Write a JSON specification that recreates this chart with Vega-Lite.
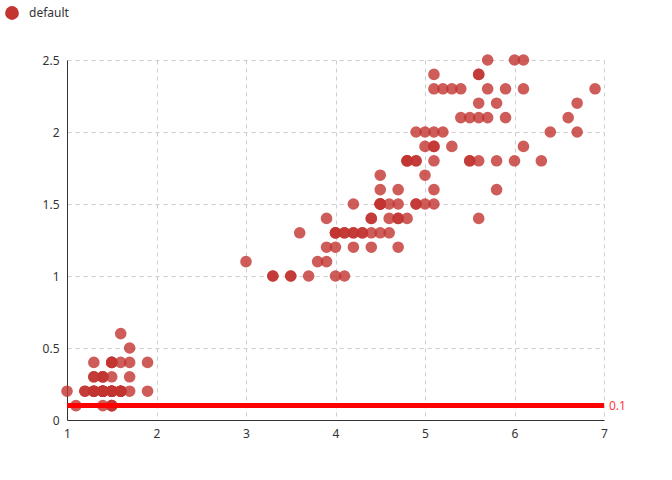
{
  "$schema": "https://vega.github.io/schema/vega-lite/v6.json",
  "autosize": {"type": "none"},
  "padding": {"left": 67, "top": 60, "right": 68, "bottom": 60},
  "width": 537,
  "height": 360,
  "background": "white",
  "config": {
    "view": {"stroke": null},
    "font": "Noto Sans",
    "axis": {
      "labelFont": "Noto Sans",
      "labelFontSize": 12,
      "labelColor": "#333",
      "domainColor": "#333",
      "domainWidth": 1,
      "ticks": false,
      "grid": true,
      "gridColor": "#cccccc",
      "gridDash": [4, 4],
      "gridWidth": 1,
      "title": null,
      "labelPadding": 8,
      "labelFlush": false,
      "labelOverlap": false
    }
  },
  "datasets": {
    "iris": [
      {"s":"default","pl":1.4,"pw":0.2},{"s":"default","pl":1.4,"pw":0.2},{"s":"default","pl":1.3,"pw":0.2},{"s":"default","pl":1.5,"pw":0.2},{"s":"default","pl":1.4,"pw":0.2},
      {"s":"default","pl":1.7,"pw":0.4},{"s":"default","pl":1.4,"pw":0.3},{"s":"default","pl":1.5,"pw":0.2},{"s":"default","pl":1.4,"pw":0.2},{"s":"default","pl":1.5,"pw":0.1},
      {"s":"default","pl":1.5,"pw":0.2},{"s":"default","pl":1.6,"pw":0.2},{"s":"default","pl":1.4,"pw":0.1},{"s":"default","pl":1.1,"pw":0.1},{"s":"default","pl":1.2,"pw":0.2},
      {"s":"default","pl":1.5,"pw":0.4},{"s":"default","pl":1.3,"pw":0.4},{"s":"default","pl":1.4,"pw":0.3},{"s":"default","pl":1.7,"pw":0.3},{"s":"default","pl":1.5,"pw":0.3},
      {"s":"default","pl":1.7,"pw":0.2},{"s":"default","pl":1.5,"pw":0.4},{"s":"default","pl":1.0,"pw":0.2},{"s":"default","pl":1.7,"pw":0.5},{"s":"default","pl":1.9,"pw":0.2},
      {"s":"default","pl":1.6,"pw":0.2},{"s":"default","pl":1.6,"pw":0.4},{"s":"default","pl":1.5,"pw":0.2},{"s":"default","pl":1.4,"pw":0.2},{"s":"default","pl":1.6,"pw":0.2},
      {"s":"default","pl":1.6,"pw":0.2},{"s":"default","pl":1.5,"pw":0.4},{"s":"default","pl":1.5,"pw":0.1},{"s":"default","pl":1.4,"pw":0.2},{"s":"default","pl":1.5,"pw":0.2},
      {"s":"default","pl":1.2,"pw":0.2},{"s":"default","pl":1.3,"pw":0.2},{"s":"default","pl":1.5,"pw":0.1},{"s":"default","pl":1.3,"pw":0.2},{"s":"default","pl":1.5,"pw":0.2},
      {"s":"default","pl":1.3,"pw":0.3},{"s":"default","pl":1.3,"pw":0.3},{"s":"default","pl":1.3,"pw":0.2},{"s":"default","pl":1.6,"pw":0.6},{"s":"default","pl":1.9,"pw":0.4},
      {"s":"default","pl":1.4,"pw":0.3},{"s":"default","pl":1.6,"pw":0.2},{"s":"default","pl":1.4,"pw":0.2},{"s":"default","pl":1.5,"pw":0.2},{"s":"default","pl":1.4,"pw":0.2},
      {"s":"default","pl":4.7,"pw":1.4},{"s":"default","pl":4.5,"pw":1.5},{"s":"default","pl":4.9,"pw":1.5},{"s":"default","pl":4.0,"pw":1.3},{"s":"default","pl":4.6,"pw":1.5},
      {"s":"default","pl":4.5,"pw":1.3},{"s":"default","pl":4.7,"pw":1.6},{"s":"default","pl":3.3,"pw":1.0},{"s":"default","pl":4.6,"pw":1.3},{"s":"default","pl":3.9,"pw":1.4},
      {"s":"default","pl":3.5,"pw":1.0},{"s":"default","pl":4.2,"pw":1.5},{"s":"default","pl":4.0,"pw":1.0},{"s":"default","pl":4.7,"pw":1.4},{"s":"default","pl":3.6,"pw":1.3},
      {"s":"default","pl":4.4,"pw":1.4},{"s":"default","pl":4.5,"pw":1.5},{"s":"default","pl":4.1,"pw":1.0},{"s":"default","pl":4.5,"pw":1.5},{"s":"default","pl":3.9,"pw":1.1},
      {"s":"default","pl":4.8,"pw":1.8},{"s":"default","pl":4.0,"pw":1.3},{"s":"default","pl":4.9,"pw":1.5},{"s":"default","pl":4.7,"pw":1.2},{"s":"default","pl":4.3,"pw":1.3},
      {"s":"default","pl":4.4,"pw":1.4},{"s":"default","pl":4.8,"pw":1.4},{"s":"default","pl":5.0,"pw":1.7},{"s":"default","pl":4.5,"pw":1.5},{"s":"default","pl":3.5,"pw":1.0},
      {"s":"default","pl":3.8,"pw":1.1},{"s":"default","pl":3.7,"pw":1.0},{"s":"default","pl":3.9,"pw":1.2},{"s":"default","pl":5.1,"pw":1.6},{"s":"default","pl":4.5,"pw":1.5},
      {"s":"default","pl":4.5,"pw":1.6},{"s":"default","pl":4.7,"pw":1.5},{"s":"default","pl":4.4,"pw":1.3},{"s":"default","pl":4.1,"pw":1.3},{"s":"default","pl":4.0,"pw":1.3},
      {"s":"default","pl":4.4,"pw":1.2},{"s":"default","pl":4.6,"pw":1.4},{"s":"default","pl":4.0,"pw":1.2},{"s":"default","pl":3.3,"pw":1.0},{"s":"default","pl":4.2,"pw":1.3},
      {"s":"default","pl":4.2,"pw":1.2},{"s":"default","pl":4.2,"pw":1.3},{"s":"default","pl":4.3,"pw":1.3},{"s":"default","pl":3.0,"pw":1.1},{"s":"default","pl":4.1,"pw":1.3},
      {"s":"default","pl":6.0,"pw":2.5},{"s":"default","pl":5.1,"pw":1.9},{"s":"default","pl":5.9,"pw":2.1},{"s":"default","pl":5.6,"pw":1.8},{"s":"default","pl":5.8,"pw":2.2},
      {"s":"default","pl":6.6,"pw":2.1},{"s":"default","pl":4.5,"pw":1.7},{"s":"default","pl":6.3,"pw":1.8},{"s":"default","pl":5.8,"pw":1.8},{"s":"default","pl":6.1,"pw":2.5},
      {"s":"default","pl":5.1,"pw":2.0},{"s":"default","pl":5.3,"pw":1.9},{"s":"default","pl":5.5,"pw":2.1},{"s":"default","pl":5.0,"pw":2.0},{"s":"default","pl":5.1,"pw":2.4},
      {"s":"default","pl":5.3,"pw":2.3},{"s":"default","pl":5.5,"pw":1.8},{"s":"default","pl":6.7,"pw":2.2},{"s":"default","pl":6.9,"pw":2.3},{"s":"default","pl":5.0,"pw":1.5},
      {"s":"default","pl":5.7,"pw":2.3},{"s":"default","pl":4.9,"pw":2.0},{"s":"default","pl":6.7,"pw":2.0},{"s":"default","pl":4.9,"pw":1.8},{"s":"default","pl":5.7,"pw":2.1},
      {"s":"default","pl":6.0,"pw":1.8},{"s":"default","pl":4.8,"pw":1.8},{"s":"default","pl":4.9,"pw":1.8},{"s":"default","pl":5.6,"pw":2.1},{"s":"default","pl":5.8,"pw":1.6},
      {"s":"default","pl":6.1,"pw":1.9},{"s":"default","pl":6.4,"pw":2.0},{"s":"default","pl":5.6,"pw":2.2},{"s":"default","pl":5.1,"pw":1.5},{"s":"default","pl":5.6,"pw":1.4},
      {"s":"default","pl":6.1,"pw":2.3},{"s":"default","pl":5.6,"pw":2.4},{"s":"default","pl":5.5,"pw":1.8},{"s":"default","pl":4.8,"pw":1.8},{"s":"default","pl":5.4,"pw":2.1},
      {"s":"default","pl":5.6,"pw":2.4},{"s":"default","pl":5.1,"pw":2.3},{"s":"default","pl":5.1,"pw":1.9},{"s":"default","pl":5.9,"pw":2.3},{"s":"default","pl":5.7,"pw":2.5},
      {"s":"default","pl":5.2,"pw":2.3},{"s":"default","pl":5.0,"pw":1.9},{"s":"default","pl":5.2,"pw":2.0},{"s":"default","pl":5.4,"pw":2.3},{"s":"default","pl":5.1,"pw":1.8}
    ],
    "markline": [{"y": 0.1, "label": "0.1", "x": 7}]
  },
  "layer": [
    {
      "data": {"name": "iris"},
      "mark": {"type": "circle", "size": 135, "opacity": 0.8},
      "encoding": {
        "x": {"field": "pl", "type": "quantitative", "scale": {"domain": [1, 7], "nice": false, "zero": false}, "axis": {"values": [1,2,3,4,5,6,7], "format": "d"}},
        "y": {"field": "pw", "type": "quantitative", "scale": {"domain": [0, 2.5], "nice": false}, "axis": {"values": [0,0.5,1,1.5,2,2.5], "format": ".1~f"}},
        "color": {
          "field": "s", "type": "nominal",
          "scale": {"range": ["#c23531"]},
          "legend": {
            "title": null, "orient": "none", "legendX": -62, "legendY": -54,
            "symbolType": "circle", "symbolSize": 190, "symbolOpacity": 1, "symbolStrokeWidth": 0,
            "labelFontSize": 12, "labelColor": "#333", "labelFont": "Noto Sans", "labelOffset": 10
          }
        }
      }
    },
    {
      "data": {"name": "markline"},
      "mark": {"type": "rule", "color": "#ff0000", "strokeWidth": 5},
      "encoding": {"y": {"field": "y", "type": "quantitative"}}
    },
    {
      "data": {"name": "markline"},
      "mark": {"type": "text", "color": "#ff3b3b", "fontSize": 12, "align": "left", "baseline": "middle", "dx": 5, "font": "Noto Sans"},
      "encoding": {
        "x": {"field": "x", "type": "quantitative"},
        "y": {"field": "y", "type": "quantitative"},
        "text": {"field": "label"}
      }
    }
  ]
}
